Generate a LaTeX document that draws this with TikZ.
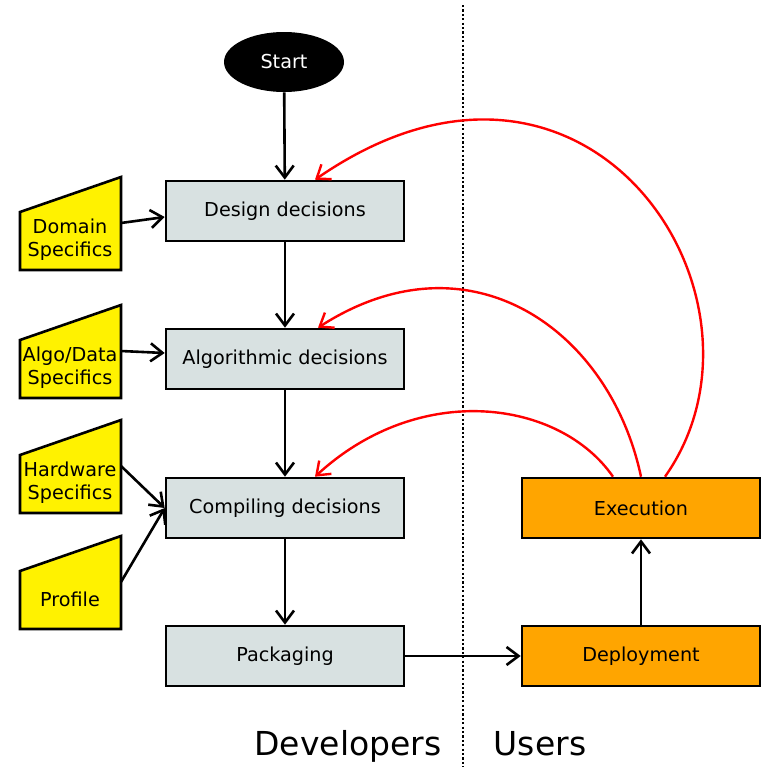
\documentclass[tikz,border=0pt]{standalone}
\usepackage{fontspec}
\setmainfont{DejaVu Sans}
\usetikzlibrary{arrows.meta,shapes.geometric}

\definecolor{boxgray}{HTML}{D8E1E1}
\definecolor{userorange}{HTML}{FFA500}

\newcommand{\SpecLeft}{20}
\newcommand{\SpecRight}{121}

\begin{document}
\begin{tikzpicture}[x=0.5pt,y=-0.5pt,
	>={Straight Barb[length=6pt,width=9pt]},
	devbox/.style={draw=black,line width=1.3pt,fill=boxgray,minimum width=119pt,minimum height=30pt,inner sep=0pt,font=\fontsize{9.6}{11}\selectfont},
	userbox/.style={devbox,fill=userorange},
	startnode/.style={ellipse,fill=black,text=white,minimum width=60pt,minimum height=30pt,inner sep=0pt,font=\fontsize{9.6}{11}\selectfont},
	spec/.style={fill=yellow,draw=black,line width=1.3pt},
	spectext/.style={align=center,inner sep=0pt,font=\fontsize{9.6}{11.5}\selectfont},
	flow/.style={->,line width=1.3pt},
	feedback/.style={->,draw=red,line width=1.2pt},
	sidelabel/.style={anchor=base,font=\fontsize{16.5}{19}\selectfont}]

	\useasboundingbox (0,0) rectangle (765,767);

	%The border between developers and users
	\draw[line width=1.1pt,dash pattern=on 1.1pt off 1.1pt] (463,5) -- (463,767);

	%The developer steps
	\node[startnode] (start) at (284,62) {Start};
	\node[devbox] (design) at (285,211) {Design decisions};
	\node[devbox] (algo) at (285,359) {Algorithmic decisions};
	\node[devbox] (comp) at (285,508) {Compiling decisions};
	\node[devbox] (pack) at (285,656) {Packaging};

	%The user steps
	\node[userbox] (exec) at (641,508) {Execution};
	\node[userbox] (deploy) at (641,656) {Deployment};

	%The inputs on the left
	\foreach \nm/\y/\txt in {domain/240/{Domain\\Specifics}, algodata/368/{Algo/Data\\Specifics}, hardware/483/{Hardware\\Specifics}, profile/599/{Profile}}{
		\filldraw[spec] (\SpecLeft,\y-28) -- (\SpecRight,\y-63) -- (\SpecRight,\y+30) -- (\SpecLeft,\y+30) -- cycle;
		\node[spectext] (\nm) at (70,\y) {\txt};
		\coordinate (\nm-out) at (\SpecRight,\y-17);
	}

	%The main flow
	\draw[flow] (start) -- (design);
	\draw[flow] (design) -- (algo);
	\draw[flow] (algo) -- (comp);
	\draw[flow] (comp) -- (pack);
	\draw[flow] (pack) -- (deploy);
	\draw[flow] (deploy) -- (exec);

	%The inputs
	\draw[flow] (domain-out) -- ([yshift=-3pt]design.west);
	\draw[flow] (algodata-out) -- ([yshift=3pt]algo.west);
	\draw[flow] (hardware-out) -- (comp.west);
	\draw[flow] (profile-out) -- (comp.west);

	%The feedback from execution
	\draw[feedback] ([xshift=12pt]exec.north) .. controls (790,300) and (590,-10) .. ([xshift=15pt]design.north);
	\draw[feedback] (exec.north) .. controls (610,330) and (470,230) .. ([xshift=16.5pt]algo.north);
	\draw[feedback] ([xshift=-14pt]exec.north) .. controls (560,400) and (420,380) .. ([xshift=15pt]comp.north);

	%The labels at the bottom
	\node[sidelabel] (devlabel) at (348,755) {Developers};
	\node[sidelabel] (userlabel) at (540,755) {Users};

\end{tikzpicture}
\end{document}
